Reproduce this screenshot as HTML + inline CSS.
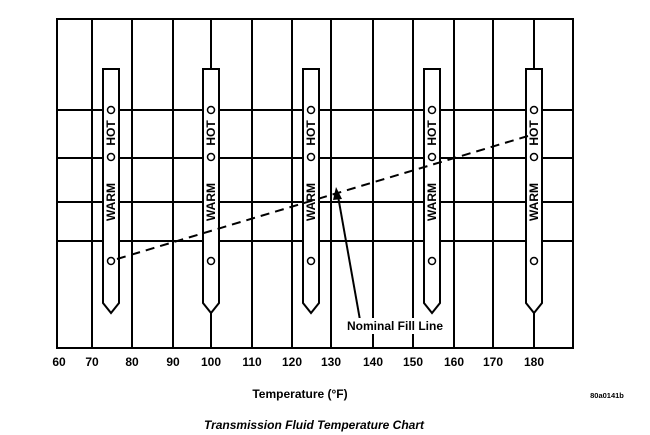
<!DOCTYPE html>
<html><head><style>body{margin:0;background:#fff}svg{display:block}text{font-family:"Liberation Sans",Arial,sans-serif;font-weight:bold;fill:#000}</style></head>
<body>
<svg width="650" height="435" viewBox="0 0 650 435" xmlns="http://www.w3.org/2000/svg">
<g stroke="#000" stroke-width="2" fill="none">
<rect x="57" y="19" width="516" height="329"/>
<line x1="92" y1="19" x2="92" y2="348"/>
<line x1="132" y1="19" x2="132" y2="348"/>
<line x1="173" y1="19" x2="173" y2="348"/>
<line x1="211" y1="19" x2="211" y2="348"/>
<line x1="252" y1="19" x2="252" y2="348"/>
<line x1="292" y1="19" x2="292" y2="348"/>
<line x1="331" y1="19" x2="331" y2="348"/>
<line x1="373" y1="19" x2="373" y2="348"/>
<line x1="413" y1="19" x2="413" y2="348"/>
<line x1="454" y1="19" x2="454" y2="348"/>
<line x1="493" y1="19" x2="493" y2="348"/>
<line x1="534" y1="19" x2="534" y2="348"/>
<line x1="57" y1="110" x2="573" y2="110"/>
<line x1="57" y1="158" x2="573" y2="158"/>
<line x1="57" y1="202" x2="573" y2="202"/>
<line x1="57" y1="241" x2="573" y2="241"/>
</g>
<g stroke="#000" stroke-width="2" fill="#fff">
<path d="M103,69 H119 V303 L111,313 L103,303 Z"/>
<path d="M203,69 H219 V303 L211,313 L203,303 Z"/>
<path d="M303,69 H319 V303 L311,313 L303,303 Z"/>
<path d="M424,69 H440 V303 L432,313 L424,303 Z"/>
<path d="M526,69 H542 V303 L534,313 L526,303 Z"/>
</g>
<g stroke="#000" stroke-width="1.5" fill="none">
<circle cx="111" cy="110" r="3.5"/><circle cx="111" cy="157" r="3.5"/><circle cx="111" cy="261" r="3.5"/>
<circle cx="211" cy="110" r="3.5"/><circle cx="211" cy="157" r="3.5"/><circle cx="211" cy="261" r="3.5"/>
<circle cx="311" cy="110" r="3.5"/><circle cx="311" cy="157" r="3.5"/><circle cx="311" cy="261" r="3.5"/>
<circle cx="432" cy="110" r="3.5"/><circle cx="432" cy="157" r="3.5"/><circle cx="432" cy="261" r="3.5"/>
<circle cx="534" cy="110" r="3.5"/><circle cx="534" cy="157" r="3.5"/><circle cx="534" cy="261" r="3.5"/>
</g>
<g font-size="12">
<text transform="translate(115,133) rotate(-90)" text-anchor="middle">HOT</text>
<text transform="translate(115,202) rotate(-90)" text-anchor="middle">WARM</text>
<text transform="translate(215,133) rotate(-90)" text-anchor="middle">HOT</text>
<text transform="translate(215,202) rotate(-90)" text-anchor="middle">WARM</text>
<text transform="translate(315,133) rotate(-90)" text-anchor="middle">HOT</text>
<text transform="translate(315,202) rotate(-90)" text-anchor="middle">WARM</text>
<text transform="translate(436,133) rotate(-90)" text-anchor="middle">HOT</text>
<text transform="translate(436,202) rotate(-90)" text-anchor="middle">WARM</text>
<text transform="translate(538,133) rotate(-90)" text-anchor="middle">HOT</text>
<text transform="translate(538,202) rotate(-90)" text-anchor="middle">WARM</text>
</g>
<line x1="117" y1="259" x2="528" y2="136" stroke="#000" stroke-width="2" stroke-dasharray="9,6"/>
<line x1="360" y1="320" x2="338" y2="196" stroke="#000" stroke-width="2"/>
<path d="M336,187 L333,200 L342,199 Z" fill="#000"/>
<rect x="345" y="318" width="100" height="16" fill="#fff"/>
<text x="347" y="330" font-size="12">Nominal Fill Line</text>
<g font-size="12" text-anchor="middle">
<text x="59" y="366">60</text><text x="92" y="366">70</text><text x="132" y="366">80</text><text x="173" y="366">90</text><text x="211" y="366">100</text><text x="252" y="366">110</text><text x="292" y="366">120</text><text x="331" y="366">130</text><text x="373" y="366">140</text><text x="413" y="366">150</text><text x="454" y="366">160</text><text x="493" y="366">170</text><text x="534" y="366">180</text>
</g>
<text x="300" y="398" font-size="12" text-anchor="middle">Temperature (°F)</text>
<text x="607" y="398" font-size="7.5" text-anchor="middle">80a0141b</text>
<text x="314" y="429" font-size="12" font-style="italic" text-anchor="middle">Transmission Fluid Temperature Chart</text>
</svg>
</body></html>
